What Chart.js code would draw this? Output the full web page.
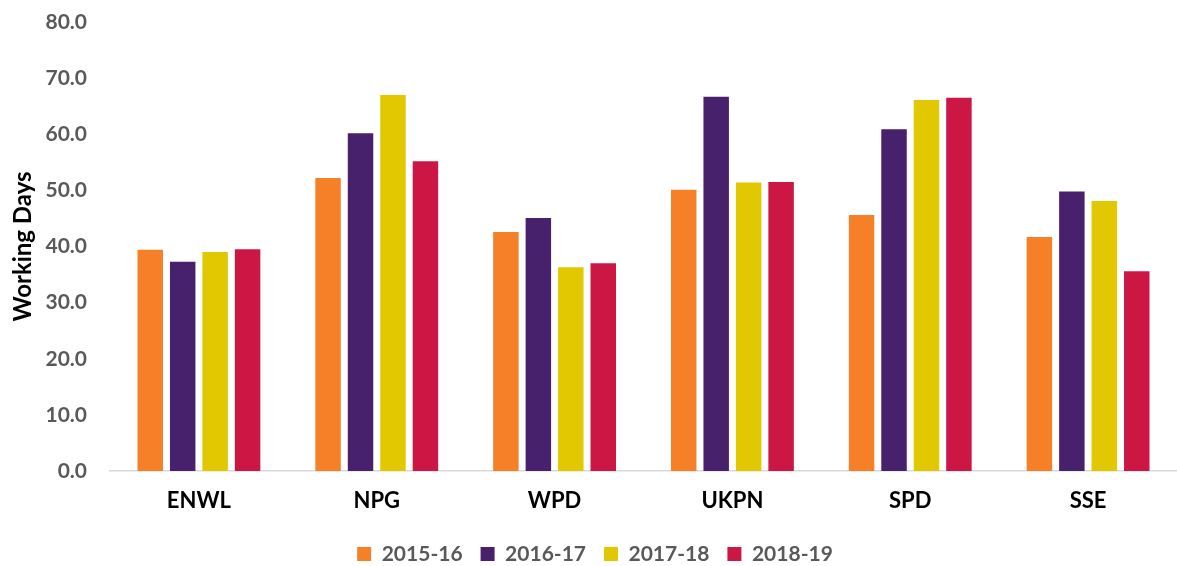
<!DOCTYPE html>
<html>
<head>
<meta charset="utf-8">
<script src="https://cdn.jsdelivr.net/npm/chart.js@4"></script>
<style>
  html, body { margin: 0; padding: 0; background: #ffffff; overflow: hidden; }
  #wrap { position: relative; width: 1177px; height: 566px; }
</style>
</head>
<body>
<div id="wrap"><canvas id="c"></canvas></div>
<script>
const categories = ["ENWL", "NPG", "WPD", "UKPN", "SPD", "SSE"];
const seriesNames = ["2015-16", "2016-17", "2017-18", "2018-19"];
const values2015 = [39.4, 52.2, 42.6, 50.1, 45.6, 41.7];
const values2016 = [37.3, 60.2, 45.1, 66.7, 60.9, 49.8];
const values2017 = [39.0, 67.0, 36.3, 51.4, 66.1, 48.1];
const values2018 = [39.5, 55.2, 37.0, 51.5, 66.5, 35.6];
const seriesColors = ["#F58028", "#48216D", "#E1C800", "#CC1744"];
const yTitle = "Working Days";

const allValues = [values2015, values2016, values2017, values2018];
const FONT = "Lato, 'Open Sans', 'Liberation Sans', sans-serif";

new Chart(document.getElementById("c"), {
  type: "bar",
  data: {
    labels: categories,
    datasets: seriesNames.map((name, i) => ({
      label: name,
      data: allValues[i],
      backgroundColor: seriesColors[i],
      borderWidth: 0,
      categoryPercentage: 0.73,
      barPercentage: 0.785
    }))
  },
  options: {
    responsive: true,
    maintainAspectRatio: false,
    animation: false,
    layout: { padding: { top: 0, right: -4, left: 9, bottom: -8.5 } },
    plugins: {
      legend: {
        position: "bottom",
        labels: {
          boxWidth: 14,
          boxHeight: 14,
          padding: 18,
          color: "#595959",
          font: { family: FONT, size: 21, weight: "bold" }
        }
      },
      tooltip: { enabled: false }
    },
    scales: {
      x: {
        grid: { display: false, drawTicks: false },
        border: { display: true, color: "#D9D9D9", width: 1.5 },
        ticks: {
          color: "#000000",
          padding: 17,
          font: { family: FONT, size: 22, weight: "bold" }
        },
        afterFit: s => { s.height = 54.5; }
      },
      y: {
        min: 0,
        max: 80,
        grid: { display: false, drawTicks: false },
        border: { display: false },
        ticks: {
          stepSize: 10,
          padding: 23,
          color: "#595959",
          font: { family: FONT, size: 21, weight: "bold" },
          callback: v => Number(v).toFixed(1)
        },
        title: {
          display: true,
          text: yTitle,
          color: "#000000",
          padding: { top: 0, bottom: 2 },
          font: { family: FONT, size: 24, weight: "bold" }
        },
        afterFit: s => { s.width = 101; s.paddingTop = 22; }
      }
    }
  }
});
</script>
</body>
</html>
